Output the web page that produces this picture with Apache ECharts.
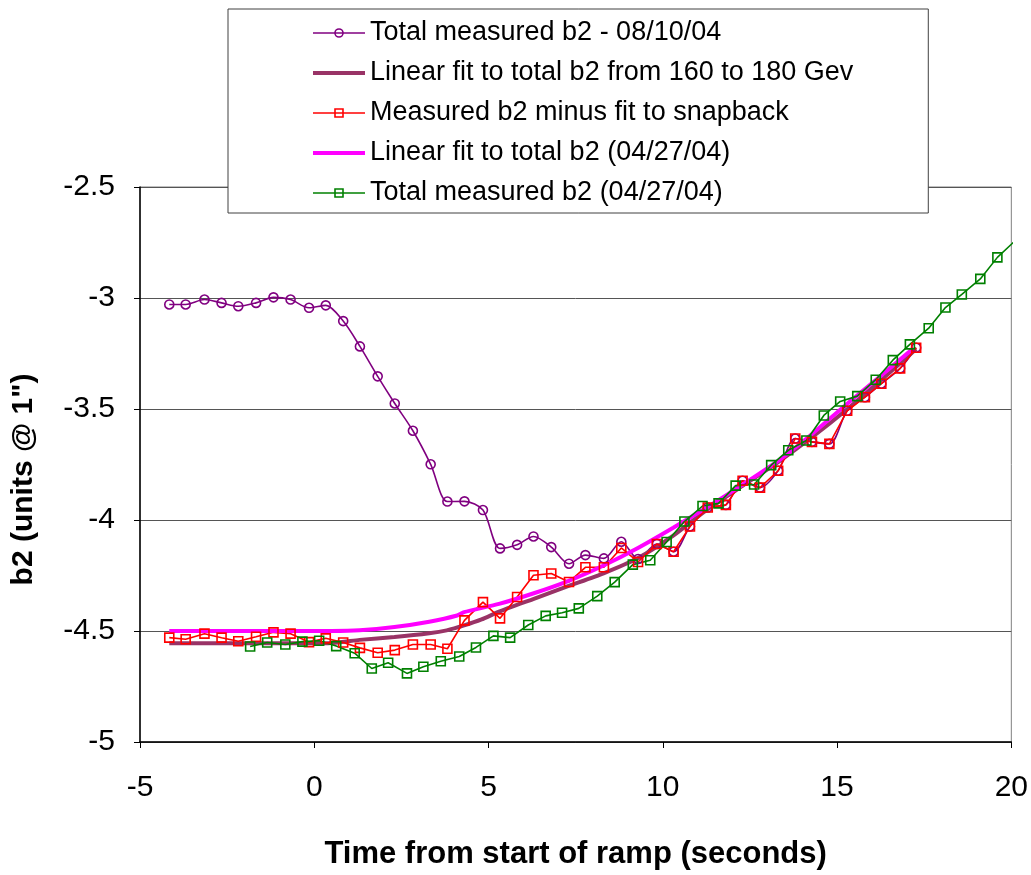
<!DOCTYPE html>
<html>
<head>
<meta charset="utf-8">
<script src="https://cdn.jsdelivr.net/npm/echarts@6/dist/echarts.min.js"></script>
<style>
html,body{margin:0;padding:0;background:#fff;}
#c{width:1031px;height:875px;}
</style>
</head>
<body>
<div id="c"></div>
<script>
// ---- data ----
const seriesNames = [
  'Total measured b2 - 08/10/04',
  'Linear fit to total b2 from 160 to 180 Gev',
  'Measured b2 minus fit to snapback',
  'Linear fit to total b2 (04/27/04)',
  'Total measured b2 (04/27/04)'
];
const xTicks = [-5, 0, 5, 10, 15, 20];
const yTicks = [-5, -4.5, -4, -3.5, -3, -2.5];

const measX = [-4.16, -3.69, -3.15, -2.66, -2.18, -1.67, -1.17, -0.68, -0.15, 0.33, 0.83, 1.31, 1.82, 2.31, 2.83, 3.34, 3.82, 4.31, 4.84, 5.33, 5.82, 6.29, 6.80, 7.31, 7.78, 8.31, 8.81, 9.29, 9.83, 10.31, 10.78, 11.29, 11.81, 12.29, 12.79, 13.31, 13.80, 14.28, 14.78, 15.29, 15.80, 16.27, 16.81, 17.27];
const purpleY = [-3.029, -3.029, -3.007, -3.022, -3.037, -3.022, -2.997, -3.007, -3.044, -3.033, -3.104, -3.218, -3.353, -3.475, -3.598, -3.749, -3.917, -3.916, -3.955, -4.128, -4.112, -4.074, -4.122, -4.197, -4.158, -4.173, -4.098, -4.176, -4.108, -4.143, -4.029, -3.944, -3.932, -3.823, -3.854, -3.778, -3.633, -3.648, -3.657, -3.508, -3.447, -3.386, -3.317, -3.224];
const redY = [-4.530, -4.537, -4.512, -4.530, -4.546, -4.526, -4.506, -4.512, -4.550, -4.533, -4.552, -4.576, -4.598, -4.586, -4.561, -4.561, -4.580, -4.452, -4.370, -4.443, -4.347, -4.249, -4.241, -4.279, -4.213, -4.213, -4.126, -4.189, -4.108, -4.143, -4.029, -3.944, -3.932, -3.823, -3.854, -3.778, -3.633, -3.648, -3.657, -3.508, -3.447, -3.386, -3.317, -3.224];

const maroonX = [-4.16, 0.4, 1.3, 2.3, 3.3, 3.8, 4.3, 4.8, 5.3, 6.3, 7.3, 8.3, 9.3, 10.3, 11.3, 12.3, 13.3, 14.3, 15.3, 16.3, 17.27];
const maroonY = [-4.555, -4.555, -4.540, -4.527, -4.510, -4.497, -4.475, -4.448, -4.413, -4.355, -4.297, -4.240, -4.170, -4.070, -3.950, -3.845, -3.740, -3.625, -3.500, -3.365, -3.230];

const magentaX = [-4.16, 0.5, 1.3, 2.3, 3.3, 4.1, 4.3, 5.3, 6.3, 7.3, 8.3, 9.3, 10.3, 11.3, 12.3, 13.3, 14.3, 15.3, 16.3, 17.2];
const magentaY = [-4.500, -4.500, -4.497, -4.482, -4.458, -4.430, -4.415, -4.378, -4.330, -4.274, -4.205, -4.125, -4.035, -3.940, -3.840, -3.735, -3.610, -3.475, -3.345, -3.225];

const greenX = [-1.84, -1.35, -0.83, -0.34, 0.14, 0.63, 1.16, 1.65, 2.12, 2.66, 3.13, 3.63, 4.16, 4.64, 5.14, 5.62, 6.14, 6.64, 7.11, 7.59, 8.12, 8.62, 9.14, 9.64, 10.11, 10.62, 11.14, 11.60, 12.09, 12.62, 13.11, 13.60, 14.12, 14.62, 15.09, 15.58, 16.11, 16.60, 17.09, 17.63, 18.11, 18.58, 19.11, 19.60, 20.11];
const greenY = [-4.570, -4.552, -4.561, -4.548, -4.544, -4.568, -4.600, -4.669, -4.643, -4.691, -4.661, -4.636, -4.615, -4.574, -4.522, -4.530, -4.473, -4.432, -4.418, -4.398, -4.343, -4.280, -4.201, -4.181, -4.099, -4.007, -3.937, -3.925, -3.845, -3.840, -3.753, -3.686, -3.642, -3.529, -3.466, -3.442, -3.368, -3.280, -3.209, -3.136, -3.043, -2.984, -2.914, -2.817, -2.742];

const colors = ['#800080', '#993366', '#FF0000', '#FF00FF', '#008000'];
const isFit = [false, true, false, true, false];
const X_MAX = 20;

function pairs(xs, ys) {
  return xs.map((x, i) => x > X_MAX ? {value: [x, ys[i]], symbol: 'none'} : [x, ys[i]]);
}

const FONT = '"Liberation Sans", Arial, sans-serif';

function markerSeries(name, data, color, symbol, smooth) {
  return {
    name, type: 'line', data, smooth: smooth || false,
    symbol, symbolSize: 9, showAllSymbol: true, clip: false,
    itemStyle: {color: 'rgba(255,255,255,0)', borderColor: color, borderWidth: 1.6},
    lineStyle: {color: color, width: 1.6},
    emphasis: {disabled: true}, z: 3
  };
}
function fitSeries(name, data, color) {
  return {
    name, type: 'line', data, smooth: 0.2, symbol: 'none',
    itemStyle: {color: color},
    lineStyle: {color: color, width: 4},
    emphasis: {disabled: true}, z: 3
  };
}

const chart = echarts.init(document.getElementById('c'), null, {renderer: 'canvas'});
chart.setOption({
  animation: false,
  backgroundColor: '#fff',
  textStyle: {fontFamily: FONT},
  grid: {left: 140, right: 16, top: 187, bottom: 130, show: true, borderColor: '#808080', borderWidth: 1, backgroundColor: 'transparent'},
  legend: {
    orient: 'vertical', left: 228, top: 9,
    padding: [10, 75, 6, 83],
    itemWidth: 52, itemHeight: 10, itemGap: 12,
    backgroundColor: '#fff', borderColor: '#404040', borderWidth: 1,
    selectedMode: false,
    textStyle: {fontFamily: FONT, fontSize: 27, color: '#000', lineHeight: 28},
    data: seriesNames.map((n, i) => isFit[i]
      ? {name: n, lineStyle: {color: colors[i], width: 4}, itemStyle: {color: 'rgba(0,0,0,0)', borderWidth: 0}}
      : {name: n, lineStyle: {color: colors[i], width: 1.6}, itemStyle: {borderColor: colors[i], borderWidth: 1.6}})
  },
  xAxis: {
    type: 'value', min: xTicks[0], max: xTicks[xTicks.length - 1], interval: 5,
    name: 'Time from start of ramp (seconds)', nameLocation: 'middle', nameGap: 97,
    nameTextStyle: {fontFamily: FONT, fontSize: 31, fontWeight: 'bold', color: '#000'},
    axisLine: {show: true, onZero: false, lineStyle: {color: '#000', width: 1.5}},
    axisTick: {show: true, length: 6, lineStyle: {color: '#000'}},
    axisLabel: {fontFamily: FONT, fontSize: 30, color: '#000', margin: 31},
    splitLine: {show: false}
  },
  yAxis: {
    type: 'value', min: yTicks[0], max: yTicks[yTicks.length - 1], interval: 0.5,
    name: 'b2 (units @ 1")', nameLocation: 'middle', nameGap: 101,
    nameTextStyle: {fontFamily: FONT, fontSize: 30, fontWeight: 'bold', color: '#000', padding: [0, 30, 0, 0]},
    axisLine: {show: true, onZero: false, lineStyle: {color: '#000', width: 1.5}},
    axisTick: {show: true, length: 6, lineStyle: {color: '#000'}},
    axisLabel: {fontFamily: FONT, fontSize: 30, color: '#000', margin: 25},
    splitLine: {show: true, lineStyle: {color: '#555', width: 1}}
  },
  series: [
    markerSeries(seriesNames[0], pairs(measX, purpleY), colors[0], 'circle', 0.3),
    fitSeries(seriesNames[1], pairs(maroonX, maroonY), colors[1]),
    markerSeries(seriesNames[2], pairs(measX, redY), colors[2], 'rect', false),
    fitSeries(seriesNames[3], pairs(magentaX, magentaY), colors[3]),
    markerSeries(seriesNames[4], pairs(greenX, greenY), colors[4], 'rect', false)
  ]
});
</script>
</body>
</html>
